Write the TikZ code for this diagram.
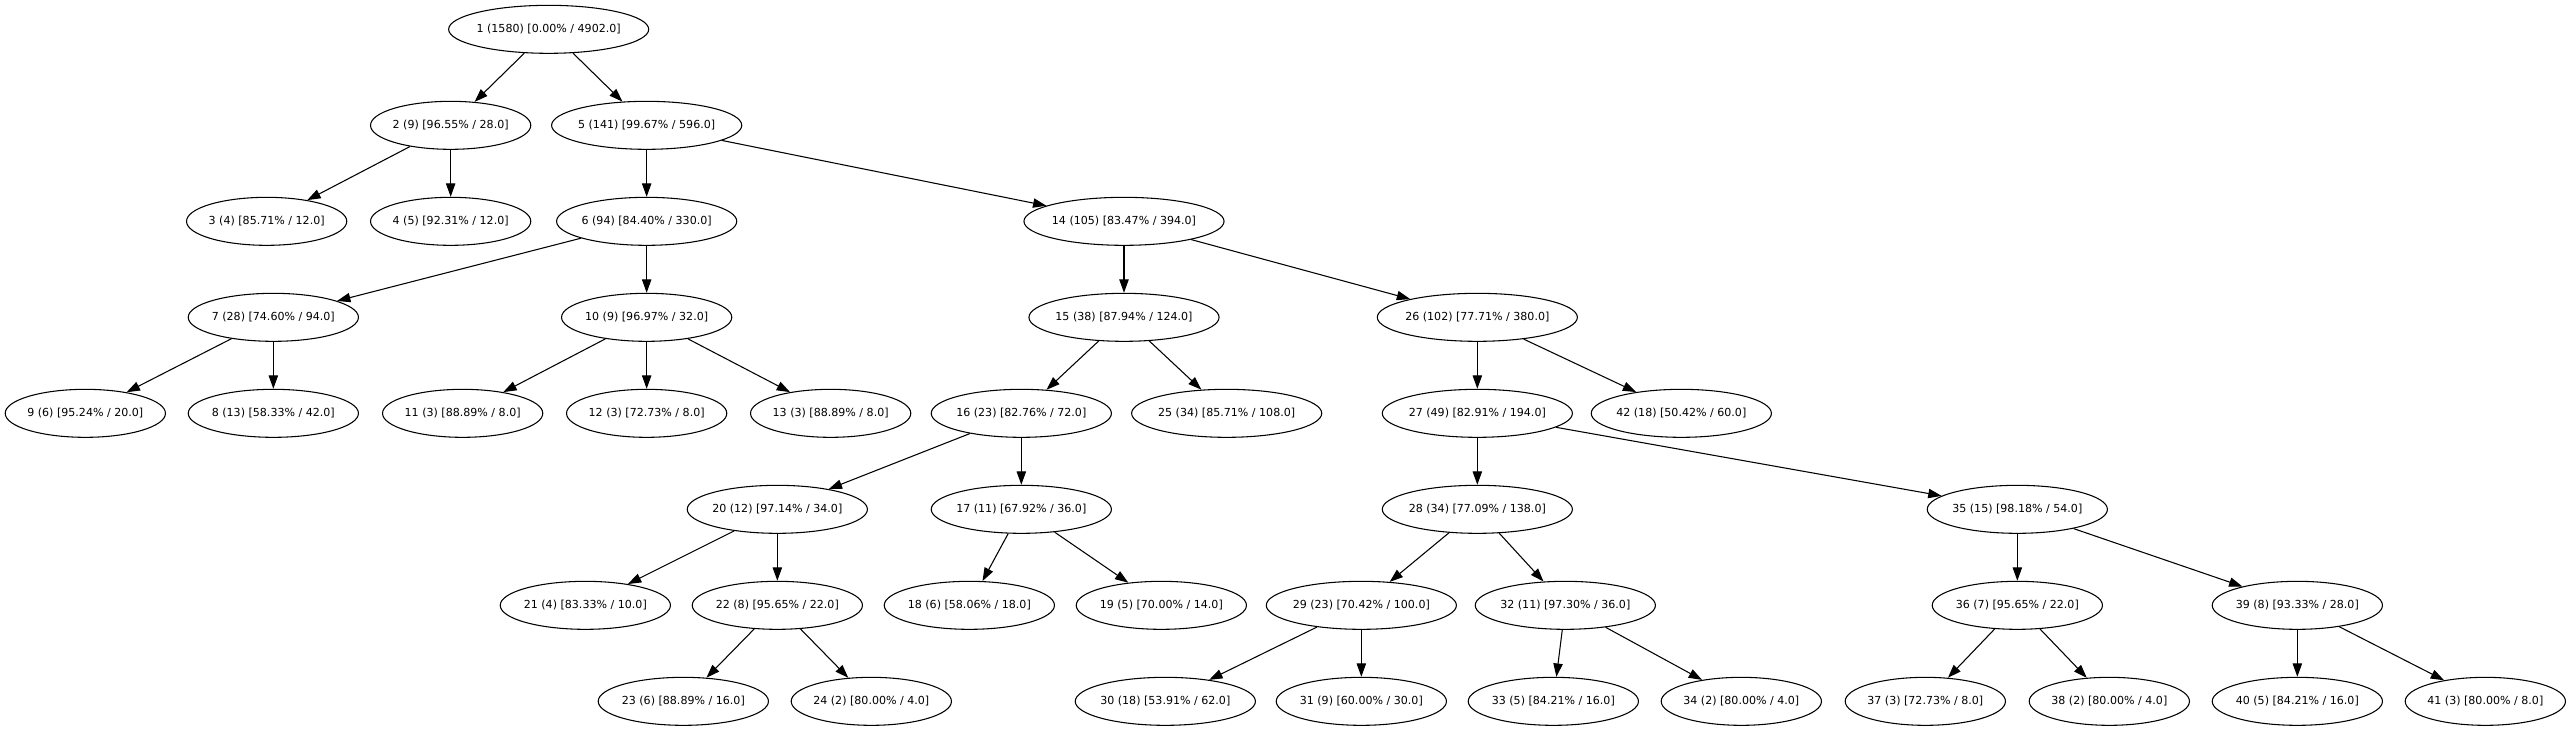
\documentclass[tikz,border=0pt]{standalone}
\usepackage{fontspec}
\setmainfont{DejaVu Sans}
\usetikzlibrary{positioning,shapes.geometric,arrows.meta}

\begin{document}
\begin{tikzpicture}[node distance=72pt, >={Triangle[length=10pt,width=7pt]},
  nd/.style={draw, ellipse, line width=0.8pt, inner xsep=-1pt, inner ysep=0pt, minimum height=36pt, font=\fontsize{8.3pt}{10pt}\selectfont}]
\useasboundingbox (0,0) rectangle (1928.25pt,548.25pt);
\node[nd] (n1) at (411.5pt,526.25pt) {1 (1580) [0.00\% / 4902.0]};
\node[nd, below of=n1, xshift=-73.5pt] (n2) {2 (9) [96.55\% / 28.0]};
\node[nd, below of=n1, xshift=73.5pt] (n5) {5 (141) [99.67\% / 596.0]};
\node[nd, below of=n2, xshift=-138pt] (n3) {3 (4) [85.71\% / 12.0]};
\node[nd, below of=n2] (n4) {4 (5) [92.31\% / 12.0]};
\node[nd, below of=n5] (n6) {6 (94) [84.40\% / 330.0]};
\node[nd, below of=n5, xshift=358pt] (n14) {14 (105) [83.47\% / 394.0]};
\node[nd, below of=n6, xshift=-280pt] (n7) {7 (28) [74.60\% / 94.0]};
\node[nd, below of=n6] (n10) {10 (9) [96.97\% / 32.0]};
\node[nd, below of=n14] (n15) {15 (38) [87.94\% / 124.0]};
\node[nd, below of=n14, xshift=265pt] (n26) {26 (102) [77.71\% / 380.0]};
\node[nd, below of=n7, xshift=-141pt] (n9) {9 (6) [95.24\% / 20.0]};
\node[nd, below of=n7] (n8) {8 (13) [58.33\% / 42.0]};
\node[nd, below of=n10, xshift=-138pt] (n11) {11 (3) [88.89\% / 8.0]};
\node[nd, below of=n10] (n12) {12 (3) [72.73\% / 8.0]};
\node[nd, below of=n10, xshift=138pt] (n13) {13 (3) [88.89\% / 8.0]};
\node[nd, below of=n15, xshift=-77pt] (n16) {16 (23) [82.76\% / 72.0]};
\node[nd, below of=n15, xshift=77pt] (n25) {25 (34) [85.71\% / 108.0]};
\node[nd, below of=n26] (n27) {27 (49) [82.91\% / 194.0]};
\node[nd, below of=n26, xshift=153pt] (n42) {42 (18) [50.42\% / 60.0]};
\node[nd, below of=n16, xshift=-183pt] (n20) {20 (12) [97.14\% / 34.0]};
\node[nd, below of=n16] (n17) {17 (11) [67.92\% / 36.0]};
\node[nd, below of=n27] (n28) {28 (34) [77.09\% / 138.0]};
\node[nd, below of=n27, xshift=405pt] (n35) {35 (15) [98.18\% / 54.0]};
\node[nd, below of=n20, xshift=-144pt] (n21) {21 (4) [83.33\% / 10.0]};
\node[nd, below of=n20] (n22) {22 (8) [95.65\% / 22.0]};
\node[nd, below of=n17, xshift=-39pt] (n18) {18 (6) [58.06\% / 18.0]};
\node[nd, below of=n17, xshift=105pt] (n19) {19 (5) [70.00\% / 14.0]};
\node[nd, below of=n28, xshift=-87pt] (n29) {29 (23) [70.42\% / 100.0]};
\node[nd, below of=n28, xshift=66pt] (n32) {32 (11) [97.30\% / 36.0]};
\node[nd, below of=n35] (n36) {36 (7) [95.65\% / 22.0]};
\node[nd, below of=n35, xshift=210pt] (n39) {39 (8) [93.33\% / 28.0]};
\node[nd, below of=n22, xshift=-70.5pt] (n23) {23 (6) [88.89\% / 16.0]};
\node[nd, below of=n22, xshift=70.5pt] (n24) {24 (2) [80.00\% / 4.0]};
\node[nd, below of=n29, xshift=-147pt] (n30) {30 (18) [53.91\% / 62.0]};
\node[nd, below of=n29] (n31) {31 (9) [60.00\% / 30.0]};
\node[nd, below of=n32, xshift=-9pt] (n33) {33 (5) [84.21\% / 16.0]};
\node[nd, below of=n32, xshift=132pt] (n34) {34 (2) [80.00\% / 4.0]};
\node[nd, below of=n36, xshift=-69pt] (n37) {37 (3) [72.73\% / 8.0]};
\node[nd, below of=n36, xshift=69pt] (n38) {38 (2) [80.00\% / 4.0]};
\node[nd, below of=n39] (n40) {40 (5) [84.21\% / 16.0]};
\node[nd, below of=n39, xshift=141pt] (n41) {41 (3) [80.00\% / 8.0]};
\draw[->, line width=0.8pt] (n1) -- (n2);
\draw[->, line width=0.8pt] (n1) -- (n5);
\draw[->, line width=0.8pt] (n2) -- (n3);
\draw[->, line width=0.8pt] (n2) -- (n4);
\draw[->, line width=0.8pt] (n5) -- (n6);
\draw[->, line width=0.8pt] (n5) -- (n14);
\draw[->, line width=0.8pt] (n6) -- (n7);
\draw[->, line width=0.8pt] (n6) -- (n10);
\draw[->, line width=0.8pt] (n7) -- (n9);
\draw[->, line width=0.8pt] (n7) -- (n8);
\draw[->, line width=0.8pt] (n10) -- (n11);
\draw[->, line width=0.8pt] (n10) -- (n12);
\draw[->, line width=0.8pt] (n10) -- (n13);
\draw[->, line width=0.8pt] (n14) -- (n15);
\draw[->, line width=0.8pt] (n14) -- (n26);
\draw[->, line width=0.8pt] (n15) -- (n16);
\draw[->, line width=0.8pt] (n15) -- (n25);
\draw[->, line width=0.8pt] (n16) -- (n20);
\draw[->, line width=0.8pt] (n16) -- (n17);
\draw[->, line width=0.8pt] (n20) -- (n21);
\draw[->, line width=0.8pt] (n20) -- (n22);
\draw[->, line width=0.8pt] (n22) -- (n23);
\draw[->, line width=0.8pt] (n22) -- (n24);
\draw[->, line width=0.8pt] (n17) -- (n18);
\draw[->, line width=0.8pt] (n17) -- (n19);
\draw[->, line width=0.8pt] (n26) -- (n27);
\draw[->, line width=0.8pt] (n26) -- (n42);
\draw[->, line width=0.8pt] (n27) -- (n28);
\draw[->, line width=0.8pt] (n27) -- (n35);
\draw[->, line width=0.8pt] (n28) -- (n29);
\draw[->, line width=0.8pt] (n28) -- (n32);
\draw[->, line width=0.8pt] (n29) -- (n30);
\draw[->, line width=0.8pt] (n29) -- (n31);
\draw[->, line width=0.8pt] (n32) -- (n33);
\draw[->, line width=0.8pt] (n32) -- (n34);
\draw[->, line width=0.8pt] (n35) -- (n36);
\draw[->, line width=0.8pt] (n35) -- (n39);
\draw[->, line width=0.8pt] (n36) -- (n37);
\draw[->, line width=0.8pt] (n36) -- (n38);
\draw[->, line width=0.8pt] (n39) -- (n40);
\draw[->, line width=0.8pt] (n39) -- (n41);
\end{tikzpicture}
\end{document}
